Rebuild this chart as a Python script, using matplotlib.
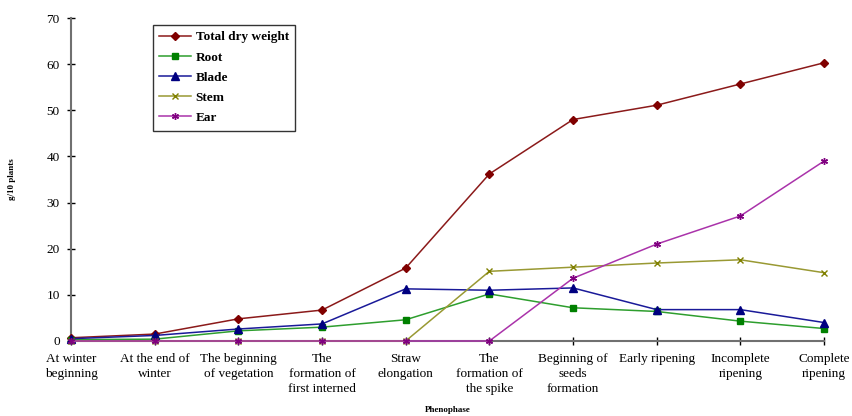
import matplotlib
matplotlib.use("Agg")
import matplotlib.pyplot as plt

plt.rcParams['font.family'] = ['Liberation Serif', 'DejaVu Serif']

phases = ["At winter\nbeginning", "At the end of\nwinter", "The beginning\nof vegetation",
          "The\nformation of\nfirst interned", "Straw\nelongation", "The\nformation of\nthe spike",
          "Beginning of\nseeds\nformation", "Early ripening", "Incomplete\nripening", "Complete\nripening"]

total = [0.7, 1.5, 4.8, 6.7, 15.8, 36.2, 48.0, 51.1, 55.7, 60.3]
root = [0.3, 0.4, 2.2, 3.0, 4.6, 10.2, 7.2, 6.4, 4.3, 2.7]
blade = [0.5, 1.2, 2.6, 3.7, 11.3, 11.0, 11.5, 6.8, 6.8, 4.0]
stem = [0, 0, 0, 0, 0, 15.1, 16.0, 16.9, 17.6, 14.8]
ear = [0, 0, 0, 0, 0, 0, 13.6, 21.0, 27.1, 39.0]

fig = plt.figure(figsize=(8.52, 4.16), dpi=100)
ax = fig.add_axes([0.0833, 0.1803, 0.8839, 0.7764])

x = list(range(len(phases)))
series = [
    ("Total dry weight", total, "#8B1A1A", "#800000", "D", 4.5),
    ("Root", root, "#2E9E2E", "#008000", "s", 5),
    ("Blade", blade, "#1A1A99", "#000080", "^", 5.5),
    ("Stem", stem, "#999933", "#808000", "x", 4.5),
    ("Ear", ear, "#AA33AA", "#800080", (6, 2, 0), 5),
]
for name, vals, lc, mc, mk, ms in series:
    ax.plot(x, vals, color=lc, lw=1.1, marker=mk, markersize=ms,
            markerfacecolor=mc, markeredgecolor=mc, markeredgewidth=1.0,
            label=name, clip_on=False, zorder=3)

ax.set_xlim(0, 9)
ax.set_ylim(0, 70)
ax.set_yticks(range(0, 71, 10))
ax.set_xticks(x)
ax.set_xticklabels(phases, fontsize=9.5, va='top', linespacing=1.3)
ax.tick_params(axis='y', labelsize=9.5, direction='inout', length=6, width=1, color='black', pad=5)
ax.tick_params(axis='x', direction='inout', length=6, width=1, color='black', pad=6)

for s in ['top', 'right']:
    ax.spines[s].set_visible(False)
for s in ['left', 'bottom']:
    ax.spines[s].set_color('#707070')
    ax.spines[s].set_linewidth(1.5)

ax.set_ylabel("g/10 plants", fontsize=6.5, fontweight='bold', labelpad=22)
ax.set_xlabel("Phenophase", fontsize=6.5, fontweight='bold', labelpad=8)

leg = ax.legend(loc='upper left', bbox_to_anchor=(0.1, 1.0), frameon=True,
                fancybox=False, edgecolor='black', prop={'weight': 'bold', 'size': 9.5},
                handlelength=2.4, handletextpad=0.35, labelspacing=0.6, borderpad=0.5)
leg.get_frame().set_linewidth(1.0)

fig.savefig("out.png", dpi=100)
